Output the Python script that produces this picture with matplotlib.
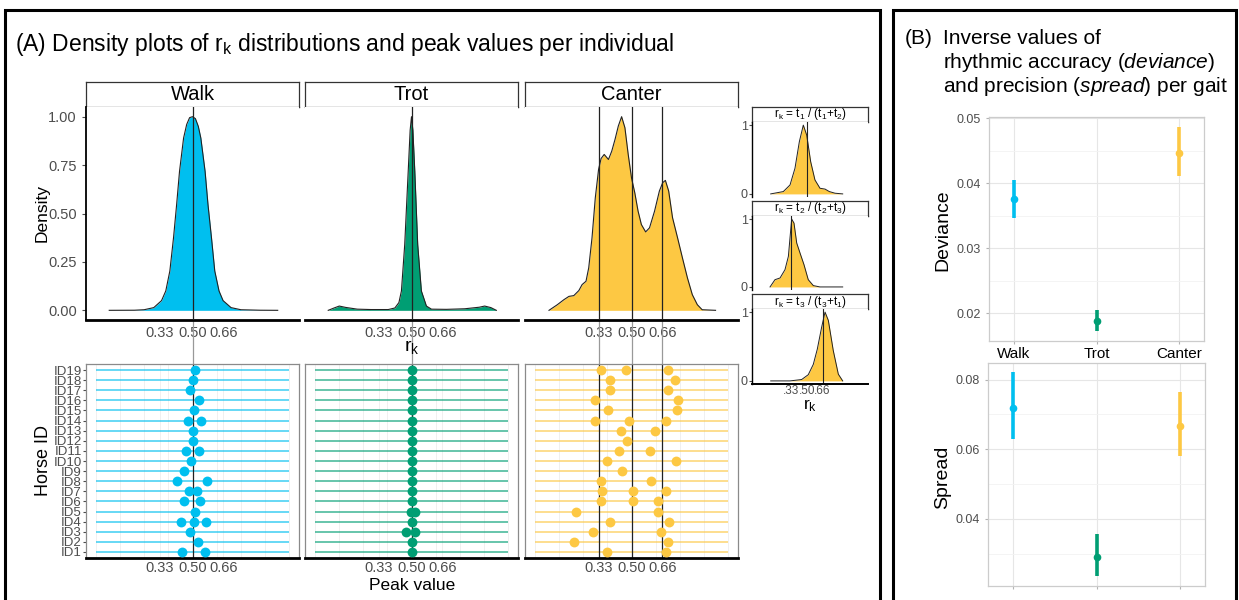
import matplotlib
matplotlib.use("Agg")
import matplotlib.pyplot as plt
import matplotlib.transforms as mtransforms
from matplotlib.patches import Rectangle

plt.rcParams['font.family'] = ['Liberation Sans', 'DejaVu Sans']
plt.rcParams['mathtext.fontset'] = 'custom'
plt.rcParams['mathtext.rm'] = 'Liberation Sans'
plt.rcParams['mathtext.it'] = 'Liberation Sans:italic'
plt.rcParams['mathtext.default'] = 'regular'

# ---- data ----
gaits = ['Walk', 'Trot', 'Canter']
ref_lines = [[0.5], [0.5], [0.33, 0.5, 0.66]]

walk_x = [0.07, 0.20, 0.25, 0.30, 0.34, 0.362, 0.383, 0.402, 0.418, 0.433, 0.454, 0.47, 0.485, 0.50,
          0.515, 0.53, 0.543, 0.565, 0.58, 0.598, 0.615, 0.637, 0.658, 0.699, 0.75, 0.85, 0.94]
walk_y = [0.0, 0.0005, 0.003, 0.014, 0.05, 0.10, 0.203, 0.375, 0.546, 0.718, 0.89, 0.96, 0.995, 1.0,
          0.99, 0.95, 0.89, 0.718, 0.546, 0.375, 0.203, 0.10, 0.05, 0.014, 0.003, 0.0005, 0.0]

trot_x = [0.07, 0.10, 0.127, 0.16, 0.22, 0.29, 0.38, 0.414, 0.435, 0.448, 0.465, 0.483, 0.493, 0.50,
          0.507, 0.517, 0.532, 0.551, 0.577, 0.603, 0.68, 0.775, 0.85, 0.878, 0.91, 0.938]
trot_y = [0.0, 0.012, 0.022, 0.015, 0.006, 0.004, 0.004, 0.012, 0.04, 0.10, 0.34, 0.718, 0.93, 1.0,
          0.93, 0.718, 0.34, 0.10, 0.022, 0.006, 0.005, 0.008, 0.016, 0.022, 0.014, 0.0]

canter_x = [0.074, 0.117, 0.151, 0.177, 0.202, 0.228, 0.245, 0.265, 0.279, 0.296, 0.313, 0.33,
            0.343, 0.359, 0.381, 0.398, 0.415, 0.432, 0.449, 0.466, 0.483, 0.50, 0.517, 0.534,
            0.551, 0.573, 0.593, 0.619, 0.644, 0.661, 0.675, 0.692, 0.712, 0.738, 0.763, 0.789,
            0.814, 0.84, 0.865, 0.934]
canter_y = [0.0, 0.029, 0.055, 0.072, 0.076, 0.102, 0.133, 0.15, 0.219, 0.374, 0.581, 0.728,
            0.784, 0.805, 0.779, 0.822, 0.883, 0.952, 1.0, 0.943, 0.805, 0.684, 0.607, 0.512,
            0.443, 0.405, 0.426, 0.512, 0.616, 0.659, 0.671, 0.616, 0.478, 0.374, 0.271, 0.167,
            0.081, 0.029, 0.003, 0.0]

# canter split into the three ratios
r1_x = [0.126, 0.256, 0.325, 0.376, 0.421, 0.462, 0.497, 0.538, 0.582, 0.634, 0.686, 0.73, 0.789, 0.868]
r1_y = [0.0, 0.034, 0.13, 0.372, 0.758, 1.0, 0.855, 0.468, 0.203, 0.082, 0.07, 0.034, 0.01, 0.0]
r2_x = [0.119, 0.17, 0.222, 0.273, 0.308, 0.342, 0.366, 0.394, 0.428, 0.469, 0.513, 0.565, 0.634, 0.868]
r2_y = [0.0, 0.107, 0.132, 0.254, 0.45, 1.0, 0.94, 0.647, 0.5, 0.328, 0.107, 0.02, 0.0, 0.0]
r3_x = [0.126, 0.325, 0.445, 0.513, 0.565, 0.606, 0.651, 0.686, 0.72, 0.771, 0.823, 0.868]
r3_y = [0.0, 0.0, 0.02, 0.09, 0.24, 0.46, 0.78, 1.0, 0.88, 0.44, 0.098, 0.0]
ratio_labels = [r'$r_k$ = $t_1$ / ($t_1$+$t_2$)', r'$r_k$ = $t_2$ / ($t_2$+$t_3$)',
                r'$r_k$ = $t_3$ / ($t_3$+$t_1$)']
ratio_refs = [0.5, 0.33, 0.66]

horse_ids = ['ID%d' % i for i in range(1, 20)]
walk_peaks = [[0.447, 0.562], [0.526], [0.488], [0.443, 0.509, 0.569], [0.515], [0.454, 0.540],
              [0.483, 0.522], [0.421, 0.574], [0.457], [0.493], [0.464, 0.534], [0.505], [0.502],
              [0.478, 0.545], [0.507], [0.531], [0.488], [0.502], [0.512]]
trot_peaks = [[0.50], [0.502], [0.474, 0.517], [0.502], [0.497, 0.519], [0.50], [0.502], [0.50],
              [0.502], [0.502], [0.502], [0.504], [0.503], [0.503], [0.502], [0.50], [0.504],
              [0.50], [0.50]]
canter_peaks = [[0.376, 0.677], [0.205, 0.686], [0.303, 0.650], [0.391, 0.694], [0.214, 0.636],
                [0.342, 0.508, 0.636], [0.349, 0.506, 0.678], [0.342, 0.602], [0.453],
                [0.374, 0.730], [0.436, 0.595], [0.475], [0.445, 0.621], [0.314, 0.486, 0.680],
                [0.378, 0.737], [0.311, 0.742], [0.390, 0.687], [0.390, 0.727],
                [0.344, 0.472, 0.687]]

dev_mean = [0.0375, 0.0188, 0.0447]
dev_low = [0.0346, 0.0173, 0.0411]
dev_high = [0.0405, 0.0204, 0.0486]
spr_mean = [0.0719, 0.0290, 0.0666]
spr_low = [0.0629, 0.0236, 0.0580]
spr_high = [0.0821, 0.0357, 0.0765]

colors = ['#00BFEF', '#009E73', '#FDC843']
grey_txt = '#4D4D4D'

W, H = 1239, 600
fig = plt.figure(figsize=(W / 100, H / 100), dpi=100)


def box(x0, y0, x1, y1):
    return fig.add_axes([x0 / W, 1 - y1 / H, (x1 - x0) / W, (y1 - y0) / H])


def strip(x0, y0, x1, y1, label, size):
    sax = box(x0, y0, x1, y1)
    sax.set_xticks([])
    sax.set_yticks([])
    for s in sax.spines.values():
        s.set_linewidth(0.9)
        s.set_color('#333333')
    sax.text(0.5, 0.5, label, ha='center', va='center', fontsize=size, transform=sax.transAxes)


# panel frames
fig.add_artist(Rectangle((5 / W, -0.1), 875 / W, 1.1 - 10 / H, fill=False, lw=2.2,
                         ec='black', transform=fig.transFigure))
fig.add_artist(Rectangle((893 / W, -0.1), 343 / W, 1.1 - 10 / H, fill=False, lw=2.2,
                         ec='black', transform=fig.transFigure))

fig.text(15 / W, 1 - 45 / H, r'(A) Density plots of r$_k$ distributions and peak values per individual',
         fontsize=16.5, va='center')

dens_x = [walk_x, trot_x, canter_x]
dens_y = [walk_y, trot_y, canter_y]
peaks = [walk_peaks, trot_peaks, canter_peaks]
lefts = [86, 305, 525]

for i, gait in enumerate(gaits):
    x0 = lefts[i]
    x1 = x0 + 213
    strip(x0, 82, x1, 107, gait, 14.5)

    # density panel
    ax = box(x0, 107, x1, 320)
    ax.fill_between(dens_x[i], dens_y[i], color=colors[i], lw=0)
    ax.plot(dens_x[i], dens_y[i], color='#222222', lw=0.8)
    ax.set_xlim(-0.05, 1.05)
    ax.set_ylim(-0.05, 1.05)
    ax.spines['top'].set_visible(False)
    ax.spines['right'].set_visible(False)
    ax.spines['bottom'].set_linewidth(2)
    ax.set_xticks([0.33, 0.5, 0.66], ['0.33', '0.50', '0.66'])
    ax.tick_params(axis='x', length=0, pad=4, labelsize=10.5, labelcolor=grey_txt)
    if i == 0:
        ax.set_yticks([0, 0.25, 0.5, 0.75, 1.0], ['0.00', '0.25', '0.50', '0.75', '1.00'])
        ax.tick_params(axis='y', length=3, labelsize=10.5, labelcolor=grey_txt, color=grey_txt)
        ax.spines['left'].set_linewidth(1.3)
    else:
        ax.spines['left'].set_visible(False)
        ax.set_yticks([])

    # peak-value panel
    dax = box(x0, 364, x1, 558)
    ids = list(range(1, 20))
    dax.hlines(ids, 0, 1, color=colors[i], alpha=0.6, lw=1.4, zorder=1)
    for j, vals in enumerate(peaks[i]):
        dax.scatter(vals, [j + 1] * len(vals), s=50, color=colors[i], zorder=3, lw=0)
    dax.set_xlim(-0.05, 1.05)
    dax.set_ylim(0.4, 19.6)
    dax.set_xticks([0.33, 0.5, 0.66], ['0.33', '0.50', '0.66'])
    dax.set_xticks([0.0, 0.125, 0.25, 0.375, 0.625, 0.75, 0.875, 1.0], minor=True)
    dax.grid(True, which='both', axis='x', color='#EEEEEE', lw=0.6)
    dax.set_axisbelow(True)
    dax.tick_params(axis='x', which='both', length=0, pad=2, labelsize=10.5, labelcolor=grey_txt)
    for s in dax.spines.values():
        s.set_color('#8A8A8A')
        s.set_linewidth(0.9)
    dax.spines['bottom'].set_color('black')
    dax.spines['bottom'].set_linewidth(2)
    if i == 0:
        dax.set_yticks(ids, horse_ids)
        dax.tick_params(axis='y', length=2, pad=1, labelsize=9.5, labelcolor=grey_txt, color=grey_txt)
    else:
        dax.set_yticks([])

    # reference lines running through both panels
    blend = mtransforms.blended_transform_factory(ax.transData, fig.transFigure)
    for v in ref_lines[i]:
        ax.axvline(v, color='#222222', lw=0.9, zorder=3)
        dax.axvline(v, color='#222222', lw=0.9, zorder=2)
        ax.plot([v, v], [1 - 320 / H, 1 - 364 / H], transform=blend, color='#999999',
                lw=0.9, clip_on=False)

fig.text(412 / W, 1 - 347 / H, r'r$_k$', fontsize=14, ha='center', va='center')
fig.text(412 / W, 1 - 585 / H, 'Peak value', fontsize=12.5, ha='center', va='center')
fig.text(42 / W, 1 - 213 / H, 'Density', fontsize=12.5, rotation=90, ha='center', va='center')
fig.text(43 / W, 1 - 461 / H, 'Horse ID', fontsize=13, rotation=90, ha='center', va='center')

# canter split into ratios
small = [(107, 122, 197), (201, 216, 290), (294, 309, 384)]
rx = [r1_x, r2_x, r3_x]
ry = [r1_y, r2_y, r3_y]
for k, (st, top, bot) in enumerate(small):
    strip(752, st, 868, top, ratio_labels[k], 8.5)
    sa = box(752, top, 868, bot)
    sa.fill_between(rx[k], ry[k], color=colors[2], lw=0)
    sa.plot(rx[k], ry[k], color='#222222', lw=0.7)
    sa.axvline(ratio_refs[k], color='#222222', lw=0.8)
    sa.set_xlim(-0.067, 1.129)
    sa.set_ylim(-0.045, 1.045)
    sa.spines['top'].set_visible(False)
    sa.spines['right'].set_visible(False)
    sa.spines['left'].set_linewidth(1)
    sa.set_yticks([0, 1], ['0', '1'])
    sa.tick_params(axis='y', length=2, pad=1, labelsize=9, labelcolor=grey_txt, color=grey_txt)
    if k < 2:
        sa.spines['bottom'].set_visible(False)
        sa.set_xticks([])
    else:
        sa.spines['bottom'].set_linewidth(1.4)
        sa.set_xticks([0.33, 0.5, 0.66], ['.33', '.50', '.66'])
        sa.tick_params(axis='x', length=0, pad=1, labelsize=8.5, labelcolor=grey_txt)
        sa.set_xlabel(r'r$_k$', fontsize=12.5, labelpad=0)

# ---- panel B ----
fig.text(905 / W, 1 - 38 / H, '(B)', fontsize=15, va='center')
fig.text(943 / W, 1 - 38 / H, 'Inverse values of', fontsize=15, va='center')
fig.text(943 / W, 1 - 62 / H, 'rhythmic accuracy ($\\it{deviance}$)', fontsize=15, va='center')
fig.text(943 / W, 1 - 86 / H, 'and precision ($\\it{spread}$) per gait', fontsize=15, va='center')

pos = [1, 2, 3]
dev_ax = box(989, 117, 1204, 341)
spr_ax = box(988, 363, 1205, 586)
panels = [(dev_ax, dev_mean, dev_low, dev_high, (0.0157, 0.0502), [0.02, 0.03, 0.04, 0.05],
           [0.025, 0.035, 0.045]),
          (spr_ax, spr_mean, spr_low, spr_high, (0.0207, 0.0848), [0.04, 0.06, 0.08],
           [0.03, 0.05, 0.07])]
for bax, mean, low, high, ylim, major, minor in panels:
    for g in range(3):
        bax.vlines(pos[g], low[g], high[g], color=colors[g], lw=2.6, zorder=3)
        bax.plot(pos[g], mean[g], 'o', color=colors[g], ms=4.5, zorder=4)
    bax.set_xlim(0.7, 3.3)
    bax.set_ylim(*ylim)
    bax.set_yticks(major, ['%.2f' % v for v in major])
    bax.set_yticks(minor, minor=True)
    bax.set_xticks(pos)
    bax.grid(True, which='major', color='#E6E6E6', lw=0.8)
    bax.grid(True, which='minor', axis='y', color='#F3F3F3', lw=0.6)
    bax.set_axisbelow(True)
    bax.tick_params(which='both', length=2.5, color='#B3B3B3', labelsize=9, labelcolor=grey_txt)
    bax.tick_params(which='minor', length=0)
    for s in bax.spines.values():
        s.set_color('#CCCCCC')
        s.set_linewidth(0.9)

dev_ax.set_xticklabels(gaits)
dev_ax.tick_params(axis='x', labelsize=11, labelcolor='black', pad=2)
spr_ax.set_xticklabels([])
fig.text(943 / W, 1 - 230 / H, 'Deviance', fontsize=14, rotation=90, ha='center', va='center')
fig.text(943 / W, 1 - 477 / H, 'Spread', fontsize=14, rotation=90, ha='center', va='center')

fig.savefig('out.png', dpi=100)
